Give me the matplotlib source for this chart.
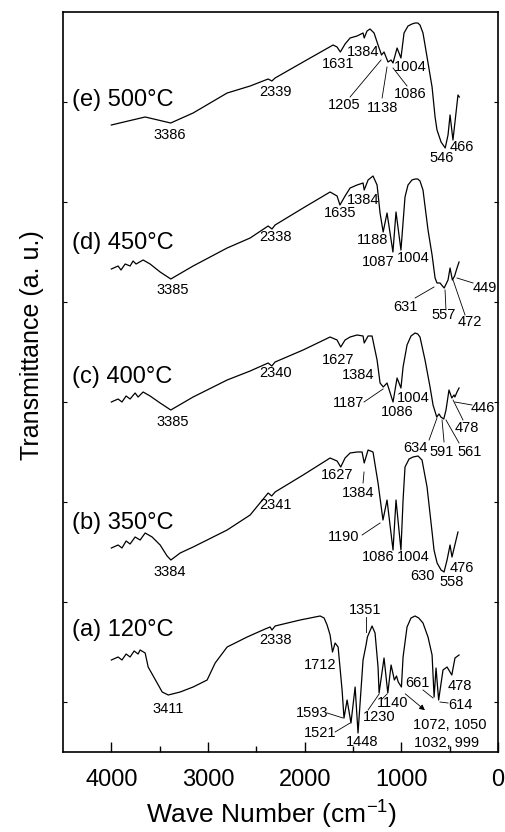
import numpy as np
import matplotlib
matplotlib.use("Agg")
import matplotlib.pyplot as plt

plt.rcParams["font.family"] = ["Liberation Sans", "DejaVu Sans"]
plt.rcParams["mathtext.fontset"] = "custom"
plt.rcParams["mathtext.rm"] = "Liberation Sans"
plt.rcParams["mathtext.default"] = "regular"

# sample names, stacking offsets (a.u.) and label heights
samples = ["(a) 120°C", "(b) 350°C", "(c) 400°C", "(d) 450°C", "(e) 500°C"]
offsets = [0, 160, 290, 420, 560]
name_y = [122, 229, 375, 509, 652]

# (a) 120°C
wn_a = [4000, 3930, 3890, 3847, 3806, 3764, 3723, 3702, 3650, 3619, 3526, 3474, 3411,
        3288, 3154, 3009, 2926, 2802, 2595, 2409, 2358, 2338, 2306, 2047, 1840, 1799,
        1768, 1737, 1712, 1685, 1654, 1613, 1593, 1561, 1521, 1478, 1448, 1396, 1365,
        1351, 1303, 1272, 1241, 1230, 1179, 1140, 1106, 1072, 1050, 1032, 999, 982,
        941, 900, 858, 820, 776, 724, 682, 661, 641, 614, 569, 527, 478, 445, 403]
t_a = [92, 95, 92, 98, 95, 101, 98, 102, 99, 85, 69, 60, 57,
       60, 65, 72, 89, 105, 115, 123, 125, 122, 126, 132, 136, 134,
       127, 117, 100, 109, 105, 62, 34, 52, 29, 65, 19, 92, 107,
       115, 126, 119, 85, 59, 94, 59, 87, 72, 76, 70, 65, 95,
       125, 134, 136, 134, 129, 115, 97, 55, 84, 52, 82, 85, 77, 94, 97]

# (b) 350°C
wn_b = [4000, 3930, 3890, 3847, 3806, 3754, 3702, 3650, 3578, 3495, 3423, 3384, 3288,
        3154, 2802, 2564, 2378, 2341, 2306, 2016, 1737, 1665, 1627, 1582, 1530, 1458,
        1406, 1384, 1344, 1293, 1241, 1190, 1148, 1086, 1055, 1004, 982, 962, 920, 879,
        827, 786, 734, 682, 662, 630, 589, 558, 527, 496, 476, 434, 414]
t_b = [44, 47, 44, 51, 48, 55, 52, 59, 55, 47, 36, 32, 39,
       45, 62, 77, 99, 96, 100, 117, 134, 131, 125, 134, 139, 140,
       140, 129, 142, 140, 109, 72, 92, 42, 92, 42, 92, 125, 133, 135,
       136, 132, 105, 60, 42, 29, 22, 20, 32, 47, 35, 52, 60]

# (c) 400°C
wn_c = [4000, 3930, 3890, 3847, 3806, 3754, 3723, 3671, 3599, 3495, 3385, 3154, 2802,
        2564, 2378, 2340, 2306, 2016, 1737, 1665, 1627, 1582, 1530, 1458, 1396, 1384,
        1344, 1303, 1251, 1220, 1187, 1148, 1086, 1044, 1004, 982, 941, 900, 858, 830,
        807, 755, 703, 672, 634, 610, 591, 561, 538, 507, 478, 455, 446, 424, 403]
t_c = [60, 63, 60, 66, 63, 69, 65, 70, 66, 59, 52, 65, 82,
       91, 99, 96, 100, 112, 125, 122, 115, 122, 125, 127, 126, 119,
       126, 126, 102, 79, 75, 79, 60, 84, 74, 95, 117, 126, 129, 128,
       125, 102, 75, 57, 45, 48, 45, 43, 52, 72, 64, 67, 65, 70, 74]

# (d) 450°C
wn_d = [4000, 3930, 3900, 3857, 3806, 3775, 3744, 3671, 3599, 3495, 3385, 3154, 2802,
        2564, 2378, 2338, 2306, 2016, 1737, 1665, 1635, 1582, 1530, 1458, 1396, 1384,
        1344, 1293, 1251, 1220, 1188, 1148, 1087, 1055, 1004, 962, 931, 890, 858, 830,
        807, 776, 724, 682, 651, 631, 600, 557, 517, 496, 472, 449, 424, 403]
t_d = [63, 66, 62, 68, 66, 71, 68, 72, 68, 60, 53, 66, 84,
       94, 106, 103, 107, 124, 140, 136, 127, 136, 144, 147, 149, 142,
       152, 156, 147, 119, 100, 119, 80, 120, 82, 135, 147, 152, 153, 153,
       151, 142, 102, 77, 54, 49, 49, 44, 52, 64, 52, 56, 64, 70]

# (e) 500°C
wn_e = [4000, 3826, 3650, 3386, 3154, 2802, 2564, 2378, 2339, 2306, 2016, 1706, 1665,
        1631, 1582, 1530, 1458, 1396, 1384, 1355, 1324, 1282, 1241, 1205, 1179, 1138,
        1106, 1086, 1044, 1004, 972, 931, 890, 858, 830, 807, 776, 734, 703, 682, 651, 631,
        589, 546, 517, 496, 466, 445, 414, 400]
t_e = [67, 71, 75, 69, 79, 99, 106, 113, 111, 114, 130, 147, 145,
       140, 148, 154, 156, 159, 154, 161, 163, 159, 147, 137, 140, 130,
       132, 129, 144, 134, 159, 166, 168, 169, 169, 167, 159, 135, 117, 105, 75, 62,
       50, 44, 57, 77, 52, 70, 97, 95]

spectra = [(wn_a, t_a), (wn_b, t_b), (wn_c, t_c), (wn_d, t_d), (wn_e, t_e)]

# peak labels: text, wave number, height
peak_labels = [
    ("3411", 3412, 43), ("2338", 2306, 112), ("1712", 1840, 87), ("1351", 1375, 142),
    ("1593", 1923, 39), ("1521", 1840, 19), ("1448", 1406, 10), ("1230", 1230, 35),
    ("1140", 1086, 49), ("661", 838, 69), ("614", 393, 47), ("478", 393, 66),
    ("1072, 1050", 496, 27), ("1032, 999", 527, 9),
    ("3384", 3392, 180), ("2341", 2306, 247), ("1627", 1665, 277), ("1384", 1448, 259),
    ("1190", 1592, 215), ("1086", 1241, 195), ("1004", 879, 195), ("630", 776, 176),
    ("558", 476, 170), ("476", 372, 184),
    ("3385", 3360, 330), ("2340", 2306, 379), ("1627", 1654, 392), ("1384", 1448, 377),
    ("1187", 1551, 349), ("1086", 1044, 340), ("1004", 879, 354), ("634", 858, 304),
    ("591", 579, 300), ("561", 290, 300), ("478", 321, 324), ("446", 155, 344),
    ("3385", 3360, 462), ("2338", 2306, 515), ("1635", 1634, 539), ("1384", 1396, 552),
    ("1188", 1293, 512), ("1087", 1241, 490), ("1004", 879, 494), ("631", 962, 445),
    ("557", 558, 437), ("472", 290, 430), ("449", 134, 464),
    ("3386", 3392, 617), ("2339", 2306, 660), ("1631", 1654, 688), ("1384", 1396, 700),
    ("1004", 910, 685), ("1086", 910, 658), ("1205", 1592, 647), ("1138", 1199, 644),
    ("546", 579, 594), ("466", 372, 605),
]

# leader lines from labels to bands
leaders = [
    (1365, 135, 1365, 120), (1768, 39, 1603, 34), (1685, 20, 1530, 29),
    (1344, 42, 1230, 58), (1199, 53, 1148, 58), (776, 62, 672, 54), (517, 49, 600, 50),
    (1396, 269, 1386, 280), (1406, 217, 1220, 229),
    (1386, 350, 1189, 363), (713, 312, 631, 334), (558, 310, 579, 332),
    (403, 309, 538, 332), (362, 332, 465, 352), (269, 347, 445, 350),
    (858, 454, 662, 465), (538, 442, 548, 462), (341, 437, 465, 472), (258, 469, 424, 474),
    (1086, 684, 941, 666), (1530, 655, 1210, 692), (1199, 654, 1148, 685),
]

fig = plt.figure(figsize=(5.05, 8.32), dpi=100)
ax = fig.add_axes([63 / 505, 80 / 832, 435 / 505, 740 / 832])

for (wn, t), off, name, ny in zip(spectra, offsets, samples, name_y):
    ax.plot(wn, np.array(t) + off, color="black", lw=0.9)
    ax.text(4405, ny, name, fontsize=17, ha="left", va="center")

for txt, x, y in peak_labels:
    ax.text(x, y, txt, fontsize=10.5, ha="center", va="center")

for x1, y1, x2, y2 in leaders:
    ax.plot([x1, x2], [y1, y2], color="black", lw=0.6)

ax.annotate("", xy=(734, 40), xytext=(982, 60),
            arrowprops=dict(arrowstyle="-|>", lw=0.6, color="black", mutation_scale=8))

ax.set_xlim(4500, 0)
ax.set_ylim(0, 740)
ax.set_xticks([4000, 3000, 2000, 1000, 0])
ax.set_xticks([3500, 2500, 1500, 500], minor=True)
ax.set_yticks(np.arange(50, 740, 100))
ax.tick_params(axis="x", which="major", direction="in", length=7, width=1, labelsize=17, pad=12)
ax.tick_params(axis="x", which="minor", direction="in", length=4, width=1)
ax.tick_params(axis="y", direction="in", length=3, width=0.8, left=True, right=True,
               labelleft=False)
for sp in ax.spines.values():
    sp.set_linewidth(1.2)

fig.text(272 / 505, 1 - 815 / 832, "Wave Number (cm$^{-1}$)", fontsize=19, ha="center", va="center")
fig.text(32 / 505, 1 - 345 / 832, "Transmittance (a. u.)", fontsize=18, ha="center", va="center",
         rotation=90)

fig.savefig("out.png", dpi=100)
